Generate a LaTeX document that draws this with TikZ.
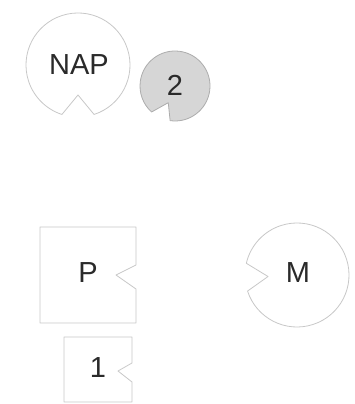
\documentclass[tikz,border=0pt]{standalone}
\usepackage{fontspec}
\setmainfont{Liberation Sans}
\definecolor{linegray}{HTML}{C8C8C8}
\definecolor{fillgray}{HTML}{D6D6D6}
\definecolor{textgray}{HTML}{2A2A2A}

\begin{document}
\begin{tikzpicture}[
  x=1pt, y=1pt,
  font=\fontsize{29}{32}\selectfont,
  part/.style={draw=linegray, line width=0.8pt, fill=white, line join=round},
  shaded/.style={draw=gray!65, line width=0.8pt, fill=fillgray, line join=round},
  lbl/.style={text=textgray, inner sep=0pt}
]
\useasboundingbox (0,0) rectangle (354,404);

\coordinate (napc) at (78,339);
\coordinate (twoc) at (175,318);
\coordinate (mc) at (297,129);

% notched circles
\draw[part] ([shift={(288:52)}]napc) arc[start angle=288, end angle=612, radius=52]
  -- ([shift={(270:30)}]napc) -- cycle;
\draw[shaded] ([shift={(262:35)}]twoc) arc[start angle=262, end angle=588, radius=35]
  -- ([shift={(248:18)}]twoc) -- cycle;
\draw[part] ([shift={(198:52)}]mc) arc[start angle=198, end angle=527, radius=52]
  -- ([shift={(183:29)}]mc) -- cycle;

% notched boxes
\draw[part] (40,177) -- (136,177) -- (136,139) -- (116,129) -- (136,115) -- (136,81) -- (40,81) -- cycle;
\draw[part] (64,67) -- (132,67) -- (132,41) -- (118,33) -- (132,22) -- (132,2) -- (64,2) -- cycle;

\node[lbl] (nap) at (79,339) {NAP};
\node[lbl] (two) at (175,319) {2};
\node[lbl] (m) at (298,131) {M};
\node[lbl] (p) at (88,131) {P};
\node[lbl] (one) at (98,36) {1};
\end{tikzpicture}
\end{document}
